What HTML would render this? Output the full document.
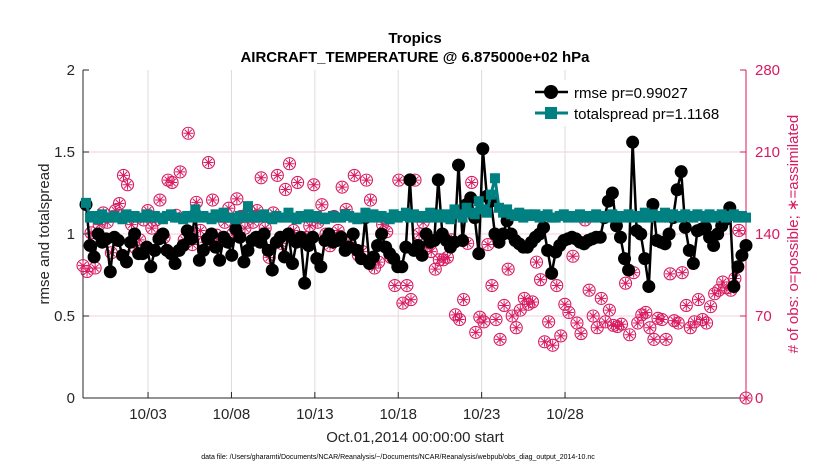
<!DOCTYPE html>
<html><head><meta charset="utf-8"><style>
body{margin:0;background:#fff;font-family:"Liberation Sans",sans-serif}
svg{display:block}
</style></head><body>
<svg id="c" width="830" height="470" xmlns="http://www.w3.org/2000/svg"></svg>
<script>
const xTickLabels=['10/03','10/08','10/13','10/18','10/23','10/28'];
const xTickDays=[2,7,12,17,22,27];
const leftTicks=[0,0.5,1,1.5,2];
const leftTickLabels=['0','0.5','1','1.5','2'];
const rightTicks=[0,70,140,210,280];
const rmse=[1.18,0.93,0.86,1.0,0.95,0.97,0.77,0.98,0.96,0.87,0.83,0.95,1.0,0.88,0.88,0.92,0.8,0.9,
0.97,1.0,0.9,0.88,0.82,0.9,0.93,1.02,0.97,1.12,0.84,0.9,0.97,1.0,0.92,0.84,0.98,0.95,0.87,1.03,0.98,0.83,0.9,0.96,0.98,
0.95,1.0,0.9,0.78,0.95,0.98,0.86,1.0,0.82,0.95,0.98,0.7,0.93,0.98,0.85,0.8,0.96,1.0,0.95,0.96,
0.98,0.9,0.92,1.0,0.9,0.85,1.1,0.82,0.86,0.93,1.0,0.92,0.88,0.85,0.8,0.8,0.92,1.33,0.9,0.93,0.87,1.0,0.95,0.96,1.33,1.0,
0.96,0.92,0.95,1.42,0.96,1.18,1.22,1.1,0.88,1.52,
1.23,1.2,1.0,0.95,1.0,1.08,1.0,0.96,0.94,0.92,0.92,0.95,0.98,1.0,1.04,0.9,0.76,0.89,0.93,0.96,
0.97,0.98,0.97,0.95,0.94,0.96,0.97,0.98,0.98,1.1,1.2,1.25,1.05,0.98,0.85,0.78,1.56,1.02,1.0,0.85,
0.68,1.18,0.96,0.95,0.94,1.0,1.1,1.27,1.38,1.04,0.9,0.82,1.02,1.03,1.04,0.98,0.93,1.0,1.05,1.09,
1.16,0.68,0.8,0.87,0.93];
const spread=[1.19,1.1,1.11,1.09,1.12,1.1,1.1,1.11,1.1,1.09,1.12,1.1,1.11,1.1,1.1,1.12,1.1,1.11,1.1,1.09,1.11,1.12,1.1,1.1,1.09,1.11,1.1,1.15,1.1,1.11,1.1,1.09,1.12,1.1,1.13,1.1,1.1,1.09,1.11,1.1,1.17,1.1,1.11,
1.1,1.12,1.1,1.09,1.11,1.1,1.1,1.13,1.1,1.09,1.11,1.1,1.12,1.1,1.11,1.1,1.09,1.1,1.11,1.1,
1.1,1.12,1.11,1.1,1.09,1.1,1.13,1.1,1.12,1.1,1.11,1.1,1.09,1.12,1.1,1.11,1.13,1.1,1.12,1.1,1.11,1.1,1.13,1.1,1.12,1.1,
1.12,1.09,1.15,1.12,1.1,1.16,1.13,1.12,1.2,1.15,1.13,1.24,1.34,1.16,1.13,1.15,1.12,1.11,1.13,1.1,1.12,
1.11,1.12,1.1,1.11,1.12,1.1,1.1,1.11,1.12,1.1,1.11,1.1,1.12,1.1,1.11,1.1,1.12,1.1,1.11,1.1,1.12,1.1,
1.11,1.1,1.12,1.1,1.11,1.1,1.13,1.1,1.12,1.11,1.1,1.13,1.1,1.12,1.11,1.1,1.12,
1.11,1.1,1.12,1.11,1.1,1.12,1.1,1.11,1.12,1.1,1.11,1.12,1.1,1.11,1.1];
const obsPossible=[113,108,141,111,148,158,150,124,160,166,190,182,148,128,135,152,160,145,
152,169,137,186,184,156,193,135,226,131,167,143,133,201,169,139,135,150,162,140,170,155,145,160,150,
160,188,145,120,158,190,132,178,200,143,184,137,137,147,182,150,165,140,130,155,
143,180,161,130,190,122,125,186,169,111,116,148,142,120,96,186,81,96,84,186,140,150,130,125,110,118,
118,120,135,71,67,84,132,184,56,69,65,131,96,67,50,79,110,70,60,75,85,
80,82,116,101,48,65,45,96,53,80,73,121,64,55,152,92,70,60,85,65,75,62,
61,63,98,54,107,64,71,73,60,50,68,67,50,106,66,64,107,
79,60,65,84,67,64,78,89,92,99,94,92,102,143,0];
const X0=83,X1=746,Y0=398,Y1=70;
const D0=-1.9,D1=37.85;
function xd(d){return X0+(d-D0)/(D1-D0)*(X1-X0);}
function xi(i,n){return X0+3+i*(X1-X0-3)/(n-1);}
function yl(v){return Y0-(v/2)*(Y0-Y1);}
function yr(v){return Y0-(v/280)*(Y0-Y1);}
const svg=document.getElementById('c');
const NS='http://www.w3.org/2000/svg';
function mk(t,a,p){const e=document.createElementNS(NS,t);for(const k in a)e.setAttribute(k,a[k]);(p||svg).appendChild(e);return e;}
const RED='#d81a60';
const grid=mk('g',{});


xTickDays.forEach(d=>mk('line',{x1:xd(d),x2:xd(d),y1:Y1,y2:Y0,stroke:'#dcdcdc','stroke-width':1},grid));
rightTicks.slice(1,-1).forEach(v=>mk('line',{x1:X0,x2:X1,y1:yr(v),y2:yr(v),stroke:'#f5cfdc','stroke-width':1},grid));
const ax=mk('g',{});


mk('line',{x1:X0,x2:X0,y1:Y1,y2:Y0,stroke:'#262626','stroke-width':1},ax);
mk('line',{x1:X0,x2:X1,y1:Y0,y2:Y0,stroke:'#262626','stroke-width':1},ax);
mk('line',{x1:X1,x2:X1,y1:Y1,y2:Y0,stroke:RED,'stroke-width':1},ax);
leftTicks.forEach((v,i)=>{mk('line',{x1:X0,x2:X0+6,y1:yl(v),y2:yl(v),stroke:'#262626'},ax);
 const t=mk('text',{x:X0-8,y:yl(v)+5,'text-anchor':'end','font-size':15,fill:'#262626'},ax);t.textContent=leftTickLabels[i];});
rightTicks.forEach(v=>{mk('line',{x1:X1-6,x2:X1,y1:yr(v),y2:yr(v),stroke:RED},ax);
 const t=mk('text',{x:X1+9,y:yr(v)+5,'font-size':15,fill:RED},ax);t.textContent=String(v);});
xTickDays.forEach((d,i)=>{mk('line',{x1:xd(d),x2:xd(d),y1:Y0,y2:Y0-6,stroke:'#262626'},ax);
 const t=mk('text',{x:xd(d),y:Y0+21,'text-anchor':'middle','font-size':15,fill:'#262626'},ax);t.textContent=xTickLabels[i];});
const og=mk('g',{});


obsPossible.forEach((v,i)=>{const x=xi(i,obsPossible.length)-3+(i==obsPossible.length-1?3:0),y=yr(v);
 const c=mk('circle',{cx:x,cy:y,r:6,fill:'none',stroke:RED,'stroke-width':1.1},og);
 
 
 let d='';for(let k=0;k<4;k++){const a=k*Math.PI/4;d+=`M${x-5*Math.cos(a)} ${y-5*Math.sin(a)}L${x+5*Math.cos(a)} ${y+5*Math.sin(a)}`;}
 mk('path',{d:d,stroke:RED,'stroke-width':1},og);});
const rg=mk('g',{});


mk('polyline',{points:rmse.map((v,i)=>xi(i,rmse.length)+','+yl(v)).join(' '),fill:'none',stroke:'#000','stroke-width':2.5},rg);
rmse.forEach((v,i)=>{const c=mk('circle',{cx:xi(i,rmse.length),cy:yl(v),r:6.5,fill:'#000'},rg);
 
 });
const sg=mk('g',{});


mk('polyline',{points:spread.map((v,i)=>xi(i,spread.length)+','+yl(v)).join(' '),fill:'none',stroke:'#008080','stroke-width':3},sg);
spread.forEach((v,i)=>{const r=mk('rect',{x:xi(i,spread.length)-5,y:yl(v)-5,width:10,height:10,fill:'#008080'},sg);
 
 });
const lg=mk('g',{});


mk('rect',{x:527,y:80,width:217,height:46,fill:'#fff',stroke:'none'},lg);
mk('line',{x1:535,x2:568,y1:92,y2:92,stroke:'#000','stroke-width':2.5},lg);
mk('circle',{cx:551,cy:92,r:7,fill:'#000'},lg);
let t=mk('text',{x:574,y:98,'font-size':15,fill:'#000'},lg);t.textContent='rmse pr=0.99027';
mk('line',{x1:535,x2:568,y1:113,y2:113,stroke:'#008080','stroke-width':3},lg);
mk('rect',{x:545,y:107,width:12,height:12,fill:'#008080'},lg);
t=mk('text',{x:574,y:119,'font-size':15,fill:'#000'},lg);t.textContent='totalspread pr=1.1168';
t=mk('text',{x:415,y:43,'text-anchor':'middle','font-size':15,'font-weight':'bold',fill:'#000'});t.textContent='Tropics';

t=mk('text',{x:415,y:62,'text-anchor':'middle','font-size':15,'font-weight':'bold',fill:'#000'});t.textContent='AIRCRAFT_TEMPERATURE @ 6.875000e+02 hPa';

t=mk('text',{x:415,y:442,'text-anchor':'middle','font-size':15,fill:'#262626'});t.textContent='Oct.01,2014 00:00:00 start';

t=mk('text',{x:0,y:0,transform:'translate(49,234) rotate(-90)','text-anchor':'middle','font-size':15,fill:'#262626'});t.textContent='rmse and totalspread';

t=mk('text',{x:0,y:0,transform:'translate(798,234) rotate(-90)','text-anchor':'middle','font-size':15,fill:RED});t.textContent='# of obs: o=possible; \u2217=assimilated';

t=mk('text',{x:398,y:459,'text-anchor':'middle','font-size':7,fill:'#000'});t.textContent='data file: /Users/gharamti/Documents/NCAR/Reanalysis/~/Documents/NCAR/Reanalysis/webpub/obs_diag_output_2014-10.nc';


</script>
</body></html>
